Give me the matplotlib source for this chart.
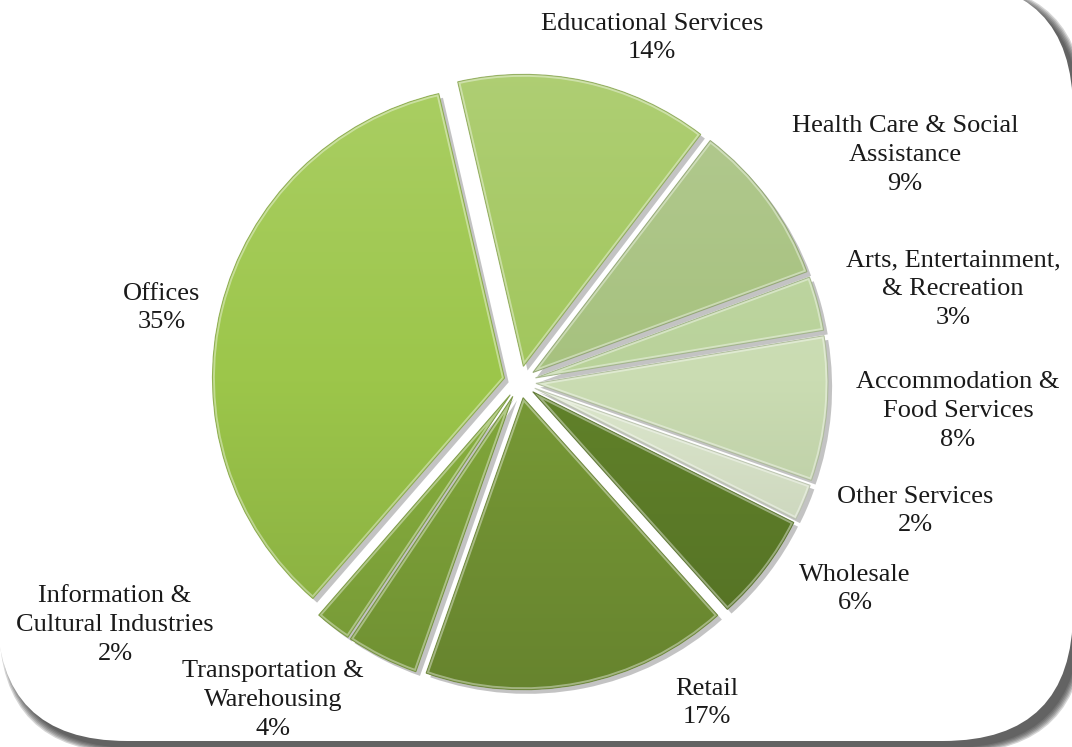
import numpy as np
import matplotlib
matplotlib.use('Agg')
import matplotlib.pyplot as plt
import matplotlib.patches as mpatches
import matplotlib.patheffects as pe
from matplotlib.colors import to_rgb

# Sectors, clockwise from the top
sectors = ['Educational Services', 'Health Care & Social\nAssistance',
           'Arts, Entertainment,\n& Recreation', 'Accommodation &\nFood Services',
           'Other Services', 'Wholesale', 'Retail', 'Transportation &\nWarehousing',
           'Information &\nCultural Industries', 'Offices']
shares = [14, 9, 3, 8, 2, 6, 17, 4, 2, 35]

colors = ['#a1c65c', '#a6c17e', '#b9d29a', '#cadcb2', '#dce7cc',
          '#61822a', '#789a36', '#82a83b', '#89b13f', '#9cc64a']

# label centres in pixels (x from left, y from top)
label_xy = [(652, 38), (905, 155), (953, 289), (958, 411), (915, 511),
            (855, 589), (707, 703), (273, 700), (115, 625), (162, 308)]

W, H = 1072, 747
fig = plt.figure(figsize=(W / 100, H / 100), dpi=100)
ax = fig.add_axes([0, 0, 1, 1])

# rounded frame with a soft shadow to the lower right
bx, by, bw, bh, rr = -3, 6, 1076, 760, 130
for p in range(6):
    s = mpatches.FancyBboxPatch((bx + 7, by - 7), bw, bh,
                                boxstyle=f'round,pad={p},rounding_size={rr}',
                                fc='#2e2e2e', ec='none', alpha=0.2, zorder=0)
    ax.add_patch(s)
ax.add_patch(mpatches.FancyBboxPatch((bx, by), bw, bh,
                                     boxstyle=f'round,pad=0,rounding_size={rr}',
                                     fc='white', ec='none', zorder=0.5))
# the top-left corner of the frame is cut off in the original
ax.add_patch(mpatches.Rectangle((0, H - 250), 400, 250, fc='white', ec='none', zorder=0.6))

cx, cy, R = 520, H - 382, 292
wedges, _ = ax.pie(shares, startangle=103, counterclock=False, colors=colors,
                   explode=[16] * len(shares), radius=R, center=(cx, cy), frame=True,
                   wedgeprops=dict(linewidth=0, zorder=1))


def gradient(color, n=256, k=0.15):
    base = np.array(to_rgb(color))
    t = np.linspace(-1, 1, n)[:, None]
    light = base + (1 - base) * k * np.clip(t, 0, None)
    dark = base * (1 + k * np.clip(t, None, 0))
    out = np.where(t > 0, light, dark)
    return out[:, None, :]


for w, c in zip(wedges, colors):
    w.set_path_effects([pe.SimplePatchShadow(offset=(3, -3), shadow_rgbFace='#555555', alpha=0.35),
                        pe.Normal()])
    im = ax.imshow(gradient(c), extent=(cx - R - 30, cx + R + 30, cy - R - 30, cy + R + 30),
                   origin='lower', aspect='auto', zorder=2, interpolation='bilinear')
    im.set_clip_path(w)
    hl = mpatches.Wedge(w.center, w.r, w.theta1, w.theta2, fc='none', ec='white',
                        lw=3.5, alpha=0.4, zorder=3)
    ax.add_patch(hl)
    hl.set_clip_path(w)
    ol = mpatches.Wedge(w.center, w.r, w.theta1, w.theta2, fc='none',
                        ec=tuple(np.array(to_rgb(c)) * 0.8), lw=0.8, alpha=0.7, zorder=4)
    ax.add_patch(ol)

for name, p, (lx, ly) in zip(sectors, shares, label_xy):
    ax.text(lx, H - ly, f'{name}\n{p}%', ha='center', va='center', fontsize=19,
            family='Liberation Serif', color='#1a1a1a', linespacing=1.4, zorder=5)

ax.set_xlim(0, W)
ax.set_ylim(0, H)
ax.axis('off')

fig.savefig('out.png', dpi=100, facecolor='white')
